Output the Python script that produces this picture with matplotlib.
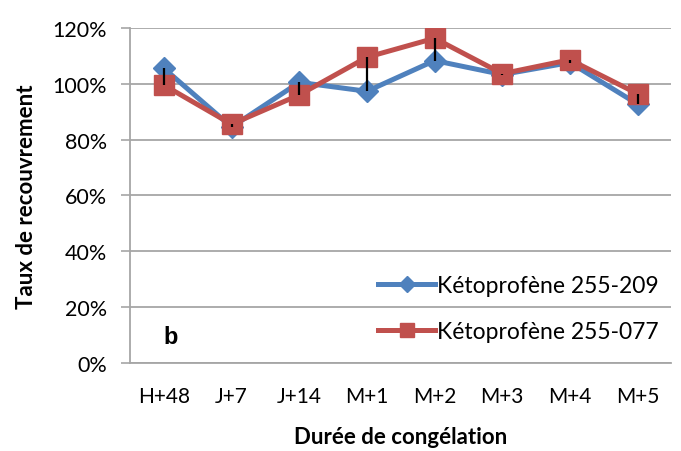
import numpy as np
import matplotlib.pyplot as plt
from matplotlib.ticker import PercentFormatter

categories = ['H+48', 'J+7', 'J+14', 'M+1', 'M+2', 'M+3', 'M+4', 'M+5']
keto_209 = [105.5, 84.5, 100.5, 97.3, 108.3, 103.3, 107.6, 92.7]
keto_077 = [99.5, 85.5, 96.0, 109.5, 116.3, 103.6, 108.6, 96.4]

blue = '#4F81BD'
red = '#C0504D'
grid_col = '#A6A6A6'

plt.rcParams['font.family'] = ['Lato', 'DejaVu Sans']

fig = plt.figure(figsize=(6.81, 4.52), dpi=100)
ax = fig.add_axes([0.191, 0.195, 0.795, 0.741])

x = np.arange(len(categories))
ax.plot(x, keto_209, color=blue, lw=3.6, marker='D', ms=11,
        label='Kétoprofène 255-209', zorder=3)
ax.plot(x, keto_077, color=red, lw=3.6, marker='s', ms=14,
        label='Kétoprofène 255-077', zorder=4)

# high-low lines between the two series
lo = np.minimum(keto_209, keto_077)
hi = np.maximum(keto_209, keto_077)
ax.vlines(x, lo, hi, color='black', lw=1.6, zorder=5)

ax.set_xlim(-0.5, len(categories) - 0.5)
ax.set_ylim(0, 120)
ax.set_yticks(np.arange(0, 121, 20))
ax.yaxis.set_major_formatter(PercentFormatter(decimals=0))
ax.set_xticks(x)
ax.set_xticklabels(categories)
ax.tick_params(axis='x', length=0, pad=17, labelsize=15)
ax.tick_params(axis='y', length=6.5, width=1.2, color=grid_col, pad=10, labelsize=15.5)

ax.grid(axis='y', color=grid_col, lw=1.3)
ax.set_axisbelow(True)
for s in ['top', 'right']:
    ax.spines[s].set_visible(False)
ax.spines['left'].set_color(grid_col)
ax.spines['left'].set_linewidth(1.3)
ax.spines['bottom'].set_color(grid_col)
ax.spines['bottom'].set_linewidth(1.3)

ax.set_xlabel('Durée de congélation', fontsize=16, fontweight='bold', labelpad=14)
ax.set_ylabel('Taux de recouvrement', fontsize=16, fontweight='bold', labelpad=11)

ax.text(0.1, 9.5, 'b', fontsize=17, fontweight='bold', ha='center', va='center',
        family=['Liberation Sans', 'DejaVu Sans'])

ax.legend(loc='lower right', bbox_to_anchor=(1.02, -0.01), frameon=False,
          fontsize=16.5, labelspacing=1.1, handlelength=2.5, handletextpad=0.05,
          borderaxespad=0.75, borderpad=0.3, markerscale=0.75)

fig.savefig('out.png', dpi=100)
